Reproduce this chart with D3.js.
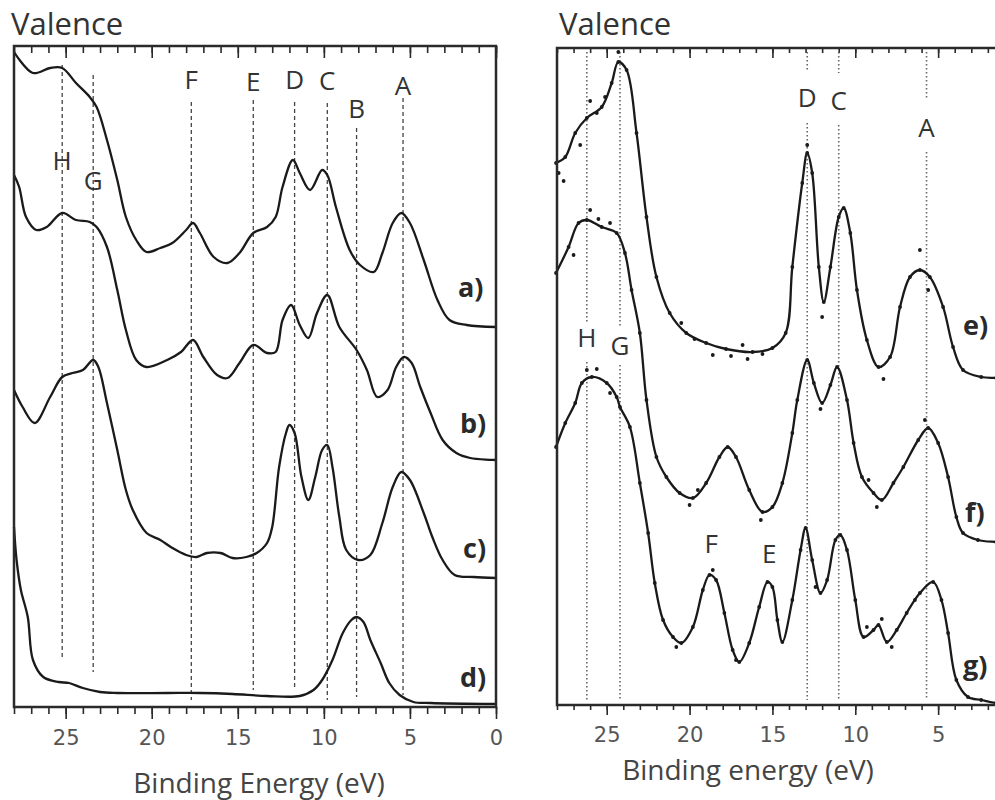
<!DOCTYPE html>
<html>
<head>
<meta charset="utf-8">
<script src="https://cdnjs.cloudflare.com/ajax/libs/d3/7.8.5/d3.min.js"></script>
<style>
    body { margin: 0; background: #fff; }
    svg { display: block; font-family: "Open Sans", sans-serif; }
    .frame { fill: none; stroke: #2a2a2a; stroke-width: 2.5; }
    .spectrum { fill: none; stroke: #1a1a1a; stroke-width: 2.3; stroke-linejoin: round; }
    .dot { fill: #1a1a1a; }
    .guide-left { stroke: #444; stroke-width: 1.3; stroke-dasharray: 4,3; }
    .guide-right { stroke: #666; stroke-width: 1.6; stroke-dasharray: 1.5,2.5; }
    .peak-label { font-size: 26px; fill: #333; text-anchor: middle; }
    .curve-label { font-size: 27px; font-weight: bold; fill: #2a2a2a; }
    .title { font-size: 31px; fill: #333; }
    .axis-title { font-size: 28px; fill: #444; text-anchor: middle; }
    .tick text { font-family: "DejaVu Sans", sans-serif; font-size: 21px; fill: #555; }
    .tick line { stroke: #2a2a2a; stroke-width: 1.6; }
</style>
</head>
<body>
<svg id="chart" width="995" height="800"></svg>
<script>
// spectra: [binding energy (eV), intensity (arb.)]
var curveA = [[28,65.5],[26.9,63.4],[25.9,63.9],[25.2,63.9],[24.4,62.4],[23.6,61.0],[23.2,60.0],[22.6,56.7],[22.0,52.7],[21.5,49.0],[20.9,46.7],[20.3,45.5],[19.5,45.9],[18.8,46.4],[18.0,47.7],[17.6,48.4],[17.2,47.4],[16.4,45.0],[15.6,44.4],[14.9,45.4],[14.1,47.4],[13.3,48.0],[12.8,49.0],[12.4,52.0],[11.8,54.7],[11.4,53.4],[10.8,51.7],[10.1,53.7],[9.8,53.2],[9.3,50.0],[8.5,45.7],[7.9,44.2],[7.1,43.5],[6.6,45.4],[6.0,48.4],[5.5,49.4],[5.0,48.4],[4.2,44.7],[3.4,40.7],[2.7,38.7],[1.7,38.2],[0,38.0]];
var curveB = [[28,53.2],[27.7,52.0],[27.3,49.0],[26.7,47.7],[26.1,48.0],[25.2,49.4],[24.4,48.7],[23.6,48.5],[23.2,48.0],[22.6,46.0],[22.0,41.7],[21.5,37.7],[20.9,34.7],[20.3,34.0],[19.1,34.7],[18.3,35.5],[17.6,36.7],[17.0,35.0],[16.2,33.2],[15.6,32.9],[14.9,34.4],[14.1,36.2],[13.3,35.4],[12.8,35.5],[12.4,38.7],[11.9,40.2],[11.4,38.2],[10.9,36.9],[10.4,39.4],[9.8,41.2],[9.1,38.0],[8.1,35.7],[7.5,33.7],[6.9,31.0],[6.3,31.7],[5.8,34.0],[5.35,35.0],[4.9,34.4],[4.4,32.0],[3.8,29.4],[3.1,26.7],[2.3,25.4],[1.5,24.9],[0,24.7]];
var curveC = [[28,31.7],[27.5,30.0],[26.8,28.4],[25.9,31.0],[25.2,33.0],[24.6,33.4],[24.0,33.7],[23.4,34.7],[23.1,34.0],[22.6,30.4],[22.0,25.7],[21.5,21.7],[21.1,19.7],[20.3,17.4],[19.5,16.7],[18.8,15.9],[18.0,15.2],[17.4,15.0],[16.8,15.4],[16.0,15.4],[15.3,14.9],[14.5,15.0],[13.9,15.4],[13.3,16.4],[13.0,18.0],[12.6,24.0],[12.2,27.4],[12.0,28.2],[11.7,27.4],[11.3,23.0],[10.9,20.7],[10.5,23.0],[10.1,25.7],[9.8,26.2],[9.5,24.0],[9.1,19.0],[8.7,15.7],[8.0,14.7],[7.3,15.2],[6.6,18.4],[6.0,22.0],[5.5,23.5],[5.0,22.7],[4.2,19.4],[3.7,17.0],[3.1,14.7],[2.4,13.2],[1.3,13.0],[0,12.9]];
var curveD = [[28,18.0],[27.85,14.7],[27.6,11.7],[27.2,9.0],[26.9,4.7],[26.3,3.0],[25.4,2.5],[24.8,2.4],[24.0,1.9],[23.0,1.5],[22.0,1.4],[19.1,1.4],[17.2,1.4],[15.3,1.3],[13.3,1.1],[11.4,1.1],[10.6,1.7],[10.1,2.7],[9.5,4.7],[8.9,7.4],[8.4,8.7],[8.1,9.0],[7.7,8.5],[7.3,6.7],[6.7,4.4],[6.2,2.4],[5.6,1.2],[4.8,0.5],[3.8,0.4],[0,0.3]];

var curveE = [[28.06,54.2],[27.5,54.8],[26.9,57.2],[26.2,58.7],[25.3,59.8],[24.7,62.2],[24.3,64.3],[23.8,63.5],[23.2,57.2],[22.6,48.8],[22.0,42.8],[21.2,39.2],[20.2,37.2],[19.0,36.2],[17.8,35.6],[16.2,35.3],[15.0,35.7],[14.2,37.2],[13.8,43.8],[13.2,52.2],[12.9,55.2],[12.6,53.2],[12.2,43.8],[11.9,40.3],[11.5,43.8],[11.0,48.8],[10.7,49.7],[10.3,47.2],[9.9,41.5],[9.3,36.5],[8.6,33.8],[7.9,34.8],[7.3,39.8],[6.7,42.8],[6.1,43.5],[5.5,42.8],[4.7,39.8],[4.1,35.8],[3.5,33.5],[2.4,32.8],[1.5,32.7],[0,32.6]];
var curveF = [[28.06,43.2],[27.3,45.8],[26.7,48.2],[26.2,48.5],[25.3,47.8],[24.4,47.2],[23.9,45.2],[23.5,41.5],[23.0,37.2],[22.6,30.5],[22.0,24.8],[21.4,22.8],[20.6,21.2],[19.8,20.7],[19.0,22.2],[18.2,24.8],[17.7,25.8],[17.2,24.8],[16.4,21.5],[15.6,19.3],[15.0,19.8],[14.4,22.2],[13.8,27.2],[13.5,30.5],[12.9,34.5],[12.5,32.2],[12.0,30.2],[11.5,32.0],[11.1,33.8],[10.5,30.5],[10.1,26.2],[9.6,22.8],[8.9,21.2],[8.4,20.5],[7.7,22.2],[7.1,23.8],[6.2,26.5],[5.6,27.7],[5.0,26.2],[4.4,22.8],[3.9,18.8],[3.5,17.2],[2.6,16.5],[1.5,16.3],[0,16.2]];
var curveG = [[28.06,25.8],[27.5,28.2],[26.9,30.2],[26.5,32.2],[25.9,32.8],[25.0,32.2],[24.4,30.8],[24.2,29.8],[23.6,27.8],[23.0,22.2],[22.5,17.2],[22.1,12.2],[21.6,8.5],[21.0,6.8],[20.5,6.2],[19.8,7.8],[19.2,11.5],[18.8,13.0],[18.4,12.5],[17.9,9.2],[17.4,5.5],[17.0,4.3],[16.4,6.2],[15.8,9.8],[15.3,12.3],[15.0,11.8],[14.7,8.5],[14.4,6.3],[13.8,10.5],[13.3,15.5],[13.0,17.7],[12.6,14.5],[12.1,11.2],[11.7,12.5],[11.2,16.5],[10.9,17.0],[10.5,15.5],[10.0,10.5],[9.5,6.8],[8.9,7.5],[8.6,8.0],[8.1,6.3],[7.5,7.5],[6.9,9.2],[6.1,11.2],[5.3,12.3],[4.8,10.5],[4.4,7.2],[3.9,2.5],[3.2,0.8],[2.4,0.5],[1.5,0.2],[0,0.1]];

// measured points that sit off the fitted lines
var scatterE = [[27.9,53.2],[27.6,52.4],[26.6,56.0],[26.0,60.4],[25.6,59.2],[25.1,60.8],[24.3,65.3],[20.5,38.2],[19.7,36.6],[18.6,35.0],[17.5,34.9],[16.8,36.0],[16.5,34.6],[15.6,35.1],[12.9,56.0],[12.0,38.8],[8.3,32.6],[6.1,45.5],[5.6,41.5]];
var scatterF = [[27.0,45.0],[26.0,49.5],[25.5,48.6],[24.8,48.2],[20.0,20.0],[19.5,21.5],[15.7,18.5],[12.1,29.6],[9.2,22.5],[8.7,19.8],[5.8,28.5]];
var scatterG = [[26.2,33.5],[25.6,33.6],[24.8,31.2],[20.8,5.8],[18.6,13.5],[17.2,4.5],[12.4,11.8],[9.3,7.8],[8.4,8.6],[7.8,5.8],[6.4,10.5]];

var leftPeakNames = ["H", "G", "F", "E", "D", "C", "B", "A"];
var leftPeakEnergies = [25.2, 23.4, 17.7, 14.1, 11.7, 9.8, 8.1, 5.4];
var rightPeakNames = ["H", "G", "D", "C", "A"];
var rightPeakEnergies = [26.2, 24.2, 12.9, 11.0, 5.7];
var rightExtraNames = ["F", "E"];
var rightExtraEnergies = [18.7, 15.2];

var leftCurveNames = ["a)", "b)", "c)", "d)"];
var rightCurveNames = ["e)", "f)", "g)"];
var leftTickLabels = [25, 20, 15, 10, 5, 0];
var rightTickLabels = [25, 20, 15, 10, 5];
var minorTicks = d3.range(0, 29, 1);

(function() {
    var svg = d3.select("#chart");

    var xL = d3.scaleLinear().domain([28, 0]).range([14, 496]);
    var yL = d3.scaleLinear().domain([0, 66.1]).range([707, 46]);
    var xR = d3.scaleLinear().domain([28, 0]).range([557, 1021]);
    var yR = d3.scaleLinear().domain([0, 65.7]).range([705, 48]);

    // axis ticks: minor every eV, major every 5 eV, top ticks point inwards
    function drawTicks(x, majors, top, bottom, majorLen, minorLen, pad) {
        var minor = d3.axisBottom(x).tickValues(minorTicks).tickSize(minorLen).tickFormat("");
        var major = d3.axisBottom(x).tickValues(majors).tickSize(majorLen).tickPadding(pad);
        [top, bottom].forEach(function(y, i) {
            svg.append("g").attr("transform", "translate(0," + y + ")").call(minor)
                .select(".domain").remove();
            var g = svg.append("g").attr("transform", "translate(0," + y + ")").call(major);
            g.select(".domain").remove();
            if (i === 0) g.selectAll("text").remove();
        });
    }
    drawTicks(xL, leftTickLabels, 46, 707, 12, 7, 11);
    drawTicks(xR, rightTickLabels, 48, 705, 10, 5, 12);

    // left panel guides
    var leftLayout = {
        labelY: [170, 190, 89, 91, 89, 90, 118, 95],
        top: [65, 75, 102, 100, 102, 103, 128, 98],
        bottom: [660, 672, 700, 690, 690, 700, 697, 695]
    };
    leftPeakEnergies.forEach(function(e, i) {
        svg.append("line").attr("class", "guide-left")
            .attr("x1", xL(e)).attr("x2", xL(e))
            .attr("y1", leftLayout.top[i]).attr("y2", leftLayout.bottom[i]);
        svg.append("text").attr("class", "peak-label")
            .attr("x", xL(e)).attr("y", leftLayout.labelY[i])
            .text(leftPeakNames[i]);
    });

    // right panel guides, broken where the letters sit
    var rightLayout = {
        labelY: [347, 355, 107, 110, 137],
        segments: [[[52, 323], [362, 700]], [[52, 328], [365, 700]], [[52, 70], [123, 700]], [[52, 73], [125, 700]], [[52, 100], [152, 700]]]
    };
    rightPeakEnergies.forEach(function(e, i) {
        rightLayout.segments[i].forEach(function(s) {
            svg.append("line").attr("class", "guide-right")
                .attr("x1", xR(e)).attr("x2", xR(e))
                .attr("y1", s[0]).attr("y2", s[1]);
        });
        svg.append("text").attr("class", "peak-label")
            .attr("x", xR(e)).attr("y", rightLayout.labelY[i])
            .text(rightPeakNames[i]);
    });
    var extraY = [553, 563];
    rightExtraEnergies.forEach(function(e, i) {
        svg.append("text").attr("class", "peak-label")
            .attr("x", xR(e)).attr("y", extraY[i])
            .text(rightExtraNames[i]);
    });

    // spectra
    var lineL = d3.line()
        .x(function(d) { return xL(d[0]); })
        .y(function(d) { return yL(d[1]); })
        .curve(d3.curveCatmullRom.alpha(0.5));
    var lineR = d3.line()
        .x(function(d) { return xR(d[0]); })
        .y(function(d) { return yR(d[1]); })
        .curve(d3.curveCatmullRom.alpha(0.5));

    svg.selectAll("path.left-spec")
        .data([curveA, curveB, curveC, curveD])
        .enter().append("path")
        .attr("class", "spectrum left-spec")
        .attr("d", lineL);

    var rightCurves = [curveE, curveF, curveG];
    var rightScatter = [scatterE, scatterF, scatterG];
    svg.selectAll("path.right-spec")
        .data(rightCurves)
        .enter().append("path")
        .attr("class", "spectrum right-spec")
        .attr("d", lineR);

    rightCurves.forEach(function(c, i) {
        svg.append("g").selectAll("circle")
            .data(c.concat(rightScatter[i]))
            .enter().append("circle")
            .attr("class", "dot")
            .attr("cx", function(d) { return xR(d[0]); })
            .attr("cy", function(d) { return yR(d[1]); })
            .attr("r", 1.9);
    });

    // frames
    svg.append("rect").attr("class", "frame")
        .attr("x", 14).attr("y", 46).attr("width", 482).attr("height", 661);
    svg.append("path").attr("class", "frame")
        .attr("d", "M1000,48H557V705H1000");

    // curve names
    var leftNamePos = [[458, 297], [460, 433], [463, 558], [460, 687]];
    leftCurveNames.forEach(function(n, i) {
        svg.append("text").attr("class", "curve-label")
            .attr("x", leftNamePos[i][0]).attr("y", leftNamePos[i][1]).text(n);
    });
    var rightNamePos = [[963, 335], [965, 522], [963, 675]];
    rightCurveNames.forEach(function(n, i) {
        svg.append("text").attr("class", "curve-label")
            .attr("x", rightNamePos[i][0]).attr("y", rightNamePos[i][1]).text(n);
    });

    // titles
    svg.append("text").attr("class", "title").attr("x", 11).attr("y", 35).text("Valence");
    svg.append("text").attr("class", "title").attr("x", 559).attr("y", 35).text("Valence");
    svg.append("text").attr("class", "axis-title").attr("x", 259).attr("y", 793).text("Binding Energy (eV)");
    svg.append("text").attr("class", "axis-title").attr("x", 748).attr("y", 780).text("Binding energy (eV)");
})();
</script>
</body>
</html>
